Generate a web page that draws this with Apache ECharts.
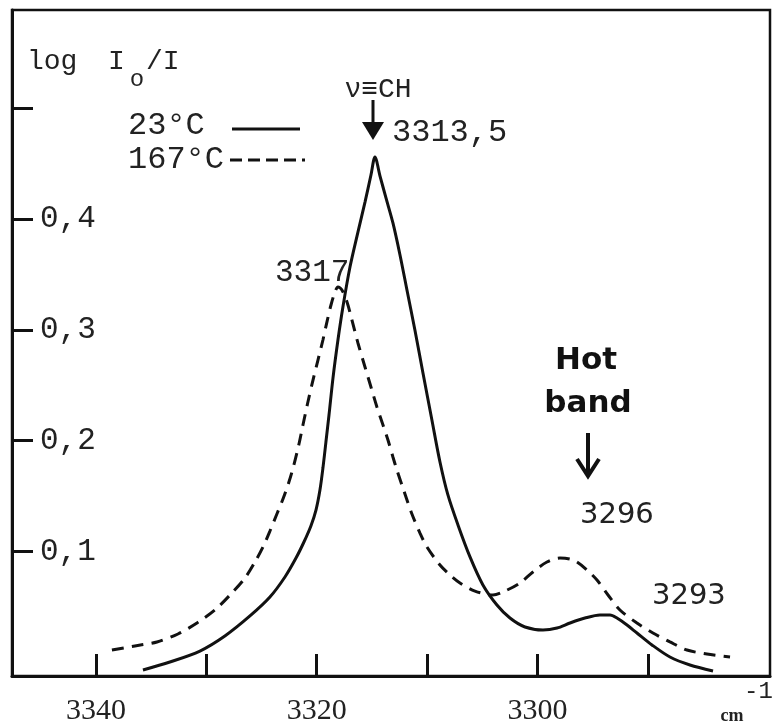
<!DOCTYPE html>
<html>
<head>
<meta charset="utf-8">
<script src="https://cdn.jsdelivr.net/npm/echarts@6/dist/echarts.min.js"></script>
<style>html,body{margin:0;padding:0;background:#fff}#c{width:773px;height:728px}</style>
</head>
<body>
<div id="c"></div>
<script>
// ---- data (wavenumber cm^-1, absorbance log I0/I) ----
const solidX = [3335.74, 3333.30, 3330.58, 3328.32, 3326.05, 3324.24, 3322.88, 3321.88, 3321.16, 3320.53,
  3320.07, 3319.71, 3319.44, 3319.17, 3318.89, 3318.53, 3318.08, 3317.63, 3316.99, 3316.27,
  3315.63, 3315.09, 3314.73, 3314.27, 3313.73, 3313.10, 3312.46, 3311.83, 3311.11, 3310.38,
  3309.57, 3308.84, 3308.12, 3307.21, 3306.12, 3304.95, 3303.68, 3302.50, 3301.14, 3299.51,
  3298.24, 3297.07, 3295.71, 3294.35, 3293.44, 3292.81, 3291.90, 3291.00, 3289.64, 3288.01,
  3286.20, 3284.11];
const solidY = [-0.0072, 0.0000, 0.0099, 0.0235, 0.0416, 0.0587, 0.0768, 0.0939, 0.1084, 0.1229,
  0.1373, 0.1554, 0.1752, 0.1987, 0.2231, 0.2565, 0.2909, 0.3207, 0.3568, 0.3884,
  0.4155, 0.4399, 0.4562, 0.4390, 0.4192, 0.3966, 0.3677, 0.3360, 0.2999, 0.2611,
  0.2186, 0.1807, 0.1509, 0.1238, 0.0949, 0.0696, 0.0515, 0.0397, 0.0316, 0.0289,
  0.0307, 0.0352, 0.0397, 0.0425, 0.0425, 0.0397, 0.0334, 0.0262, 0.0154, 0.0045,
  -0.0027, -0.0081];
const dashX = [3338.55, 3336.47, 3334.47, 3332.57, 3330.85, 3329.22, 3327.86, 3326.50, 3325.60, 3324.87,
  3324.24, 3323.61, 3323.06, 3322.52, 3322.07, 3321.61, 3321.25, 3320.80, 3320.34, 3319.89,
  3319.44, 3319.08, 3318.71, 3318.35, 3318.08, 3317.72, 3317.26, 3316.81, 3316.27, 3315.63,
  3315.09, 3314.55, 3314.00, 3313.55, 3313.10, 3312.74, 3312.01, 3311.38, 3310.65, 3310.02,
  3308.84, 3307.93, 3307.03, 3305.67, 3304.04, 3302.95, 3301.59, 3300.42, 3299.15, 3297.97,
  3297.07, 3296.43, 3295.52, 3294.62, 3293.62, 3292.54, 3291.00, 3289.55, 3288.01, 3286.47,
  3284.66, 3282.57];
const dashY = [0.0108, 0.0145, 0.0181, 0.0253, 0.0352, 0.0470, 0.0605, 0.0759, 0.0903, 0.1039,
  0.1183, 0.1337, 0.1472, 0.1626, 0.1780, 0.1969, 0.2141, 0.2349, 0.2547, 0.2728,
  0.2909, 0.3071, 0.3225, 0.3342, 0.3388, 0.3360, 0.3252, 0.3089, 0.2882, 0.2665,
  0.2484, 0.2304, 0.2141, 0.2005, 0.1852, 0.1734, 0.1518, 0.1337, 0.1165, 0.1039,
  0.0876, 0.0786, 0.0714, 0.0641, 0.0605, 0.0641, 0.0714, 0.0813, 0.0903, 0.0939,
  0.0930, 0.0903, 0.0831, 0.0741, 0.0605, 0.0470, 0.0352, 0.0262, 0.0181, 0.0108,
  0.0072, 0.0045];
const seriesNames = ['23°C', '167°C'];
const xTicks = [3340, 3330, 3320, 3310, 3300, 3290];
const xTickLabels = [3340, 3320, 3300];
const yTicks = [0.1, 0.2, 0.3, 0.4, 0.5];
const yTickLabels = [0.1, 0.2, 0.3, 0.4];

const zip = (xs, ys) => xs.map((x, i) => [x, ys[i]]);
const INK = '#111';
const MONO = '"Liberation Mono", "DejaVu Sans Mono", monospace';

const chart = echarts.init(document.getElementById('c'), null, {renderer: 'canvas'});
chart.setOption({
  backgroundColor: '#fff',
  animation: false,
  grid: {left: 12, right: 3, top: 10, bottom: 52, show: true, borderColor: INK, borderWidth: 2.5, backgroundColor: 'transparent'},
  xAxis: {
    type: 'value', inverse: true, min: 3278.95, max: 3347.6,
    axisLine: {show: true, onZero: false, lineStyle: {color: INK, width: 3}},
    axisTick: {show: true, inside: true, length: 22, customValues: xTicks, lineStyle: {color: INK, width: 3}},
    axisLabel: {show: true, customValues: xTickLabels, margin: 20, color: '#222', fontSize: 30,
      fontFamily: '"Liberation Serif", serif', formatter: v => String(v)},
    splitLine: {show: false}
  },
  yAxis: {
    type: 'value', min: -0.01265, max: 0.589,
    axisLine: {show: true, onZero: false, lineStyle: {color: INK, width: 3}},
    axisTick: {show: true, inside: true, length: 21, customValues: yTicks, lineStyle: {color: INK, width: 3}},
    axisLabel: {show: true, inside: true, margin: 28, customValues: yTickLabels, color: '#222', fontSize: 31, fontFamily: MONO,
      formatter: v => v.toFixed(1).replace('.', ',')},
    splitLine: {show: false}
  },
  series: [
    {name: seriesNames[0], type: 'line', data: zip(solidX, solidY), showSymbol: false, symbol: 'none', smooth: 0.3,
      lineStyle: {color: INK, width: 3}},
    {name: seriesNames[1], type: 'line', data: zip(dashX, dashY), showSymbol: false, symbol: 'none', smooth: 0.3,
      lineStyle: {color: INK, width: 3, type: [12, 8]}}
  ],
  graphic: [
    // y label log I0/I
    {type: 'text', style: {text: 'log', x: 27, y: 62, font: '28px ' + MONO, fill: '#222', verticalAlign: 'middle'}},
    {type: 'text', style: {text: 'I', x: 108, y: 62, font: '28px ' + MONO, fill: '#222', verticalAlign: 'middle'}},
    {type: 'text', style: {text: 'o', x: 137, y: 80, font: '24px ' + MONO, fill: '#222', align: 'center', verticalAlign: 'middle'}},
    {type: 'text', style: {text: '/I', x: 146, y: 62, font: '28px ' + MONO, fill: '#222', verticalAlign: 'middle'}},
    // legend
    {type: 'text', style: {text: seriesNames[0], x: 128, y: 126, font: '32px ' + MONO, fill: '#222', verticalAlign: 'middle'}},
    {type: 'text', style: {text: seriesNames[1], x: 128, y: 160, font: '32px ' + MONO, fill: '#222', verticalAlign: 'middle'}},
    {type: 'line', shape: {x1: 232, y1: 129, x2: 300, y2: 129}, style: {stroke: INK, lineWidth: 3}},
    {type: 'line', shape: {x1: 230, y1: 160, x2: 305, y2: 160}, style: {stroke: INK, lineWidth: 3, lineDash: [12, 6]}},
    // nu CH annotation
    {type: 'text', style: {text: 'ν≡CH', x: 378, y: 90, font: '28px ' + MONO, fill: '#222', align: 'center', verticalAlign: 'middle'}},
    {type: 'line', shape: {x1: 373, y1: 100, x2: 373, y2: 128}, style: {stroke: INK, lineWidth: 3}},
    {type: 'polygon', shape: {points: [[362, 122], [384, 122], [373, 140]]}, style: {fill: INK}},
    {type: 'text', style: {text: '3313,5', x: 392, y: 133, font: '32px ' + MONO, fill: '#222', verticalAlign: 'middle'}},
    {type: 'text', style: {text: '3317', x: 275, y: 273, font: '31px ' + MONO, fill: '#222', verticalAlign: 'middle'}},
    // hot band
    {type: 'text', style: {text: 'Hot', x: 586, y: 361, font: 'bold 31px "DejaVu Sans", sans-serif', fill: '#111', align: 'center', verticalAlign: 'middle'}},
    {type: 'text', style: {text: 'band', x: 588, y: 404, font: 'bold 31px "DejaVu Sans", sans-serif', fill: '#111', align: 'center', verticalAlign: 'middle'}},
    {type: 'line', shape: {x1: 588, y1: 433, x2: 588, y2: 474}, style: {stroke: INK, lineWidth: 4}},
    {type: 'polyline', shape: {points: [[577, 459], [588, 476], [599, 459]]}, style: {stroke: INK, lineWidth: 4, fill: null}},
    {type: 'text', style: {text: '3296', x: 580, y: 515, font: '29px "DejaVu Sans", sans-serif', fill: '#222', verticalAlign: 'middle'}},
    {type: 'text', style: {text: '3293', x: 652, y: 596, font: '29px "DejaVu Sans", sans-serif', fill: '#222', verticalAlign: 'middle'}},
    // unit
    {type: 'text', style: {text: 'cm', x: 732, y: 716, font: 'bold 18px "Liberation Serif", serif', fill: '#222', align: 'center', verticalAlign: 'middle'}},
    {type: 'text', style: {text: '-1', x: 744, y: 692, font: '24px ' + MONO, fill: '#222', verticalAlign: 'middle'}}
  ]
});
</script>
</body>
</html>
